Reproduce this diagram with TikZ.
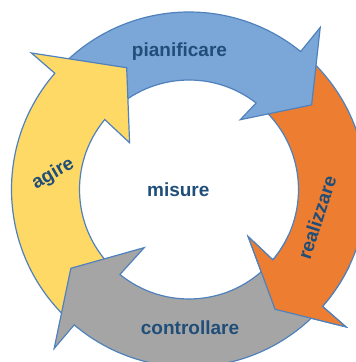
\documentclass[tikz,border=0pt]{standalone}
\usepackage{fontspec}
\setmainfont{Liberation Sans}
\usepackage{tikz}
\definecolor{CycBlue}{HTML}{7BA7D8}
\definecolor{CycOrange}{HTML}{ED7D31}
\definecolor{CycGray}{HTML}{A5A5A5}
\definecolor{CycYellow}{HTML}{FFD966}
\definecolor{CycLine}{HTML}{4F81BD}
\definecolor{CycText}{HTML}{1F4E79}
% #1 base angle, #2 back of head, #3 tip angle, #4 tip radius, #5 inner barb radius, #6 fill
\newcommand{\CycArrow}[6]{\draw[fill=#6,draw=CycLine,line width=1.2pt]
  ({#1+137.5}:177.5) arc[start angle=#1+137.5,end angle=#1+#2,radius=177.5]
  -- ({#1+#2}:208.5) -- ({#1+#3}:#4) -- ({#1+#2+2.7}:#5) -- ({#1+#2+1.2}:109.5)
  arc[start angle=#1+#2+1.2,end angle=#1+137.5,radius=109.5] -- cycle;}

\begin{document}
\begin{tikzpicture}[x=1pt,y=1pt,every node/.style={font=\bfseries\fontsize{19}{19}\selectfont,text=CycText,inner sep=0pt}]
    \useasboundingbox (-189,-172.5) rectangle (167,189.5);
    \clip (-189,-172.5) rectangle (167,189.5);
    % each tail runs under the head before it
    \CycArrow{-90}{48.8}{35.7}{147.5}{75.6}{CycOrange}
    \CycArrow{0}{51}{34.6}{149}{86.6}{CycBlue}
    \CycArrow{90}{49.1}{27.1}{136.8}{75.6}{CycYellow}
    \CycArrow{180}{49.7}{33.7}{142}{73.4}{CycGray}
    % orange head once more, over the grey tail
    \begin{scope}
      \clip (0,0) -- (-25:300) -- (-75:300) -- cycle;
      \CycArrow{-90}{48.8}{35.7}{147.5}{75.6}{CycOrange}
    \end{scope}
    \node[anchor=base] (centre) at (-10.7,-6.75) {misure};
    \node[anchor=base] (plan) at (-9.5,132.85) {pianificare};
    \node[rotate=72] (do) at (128,-28.2) {realizzare};
    \node[anchor=base] (check) at (1,-144.8) {controllare};
    \node[rotate=30] (act) at (-135.7,15.5) {agire};
  \end{tikzpicture}
\end{document}
